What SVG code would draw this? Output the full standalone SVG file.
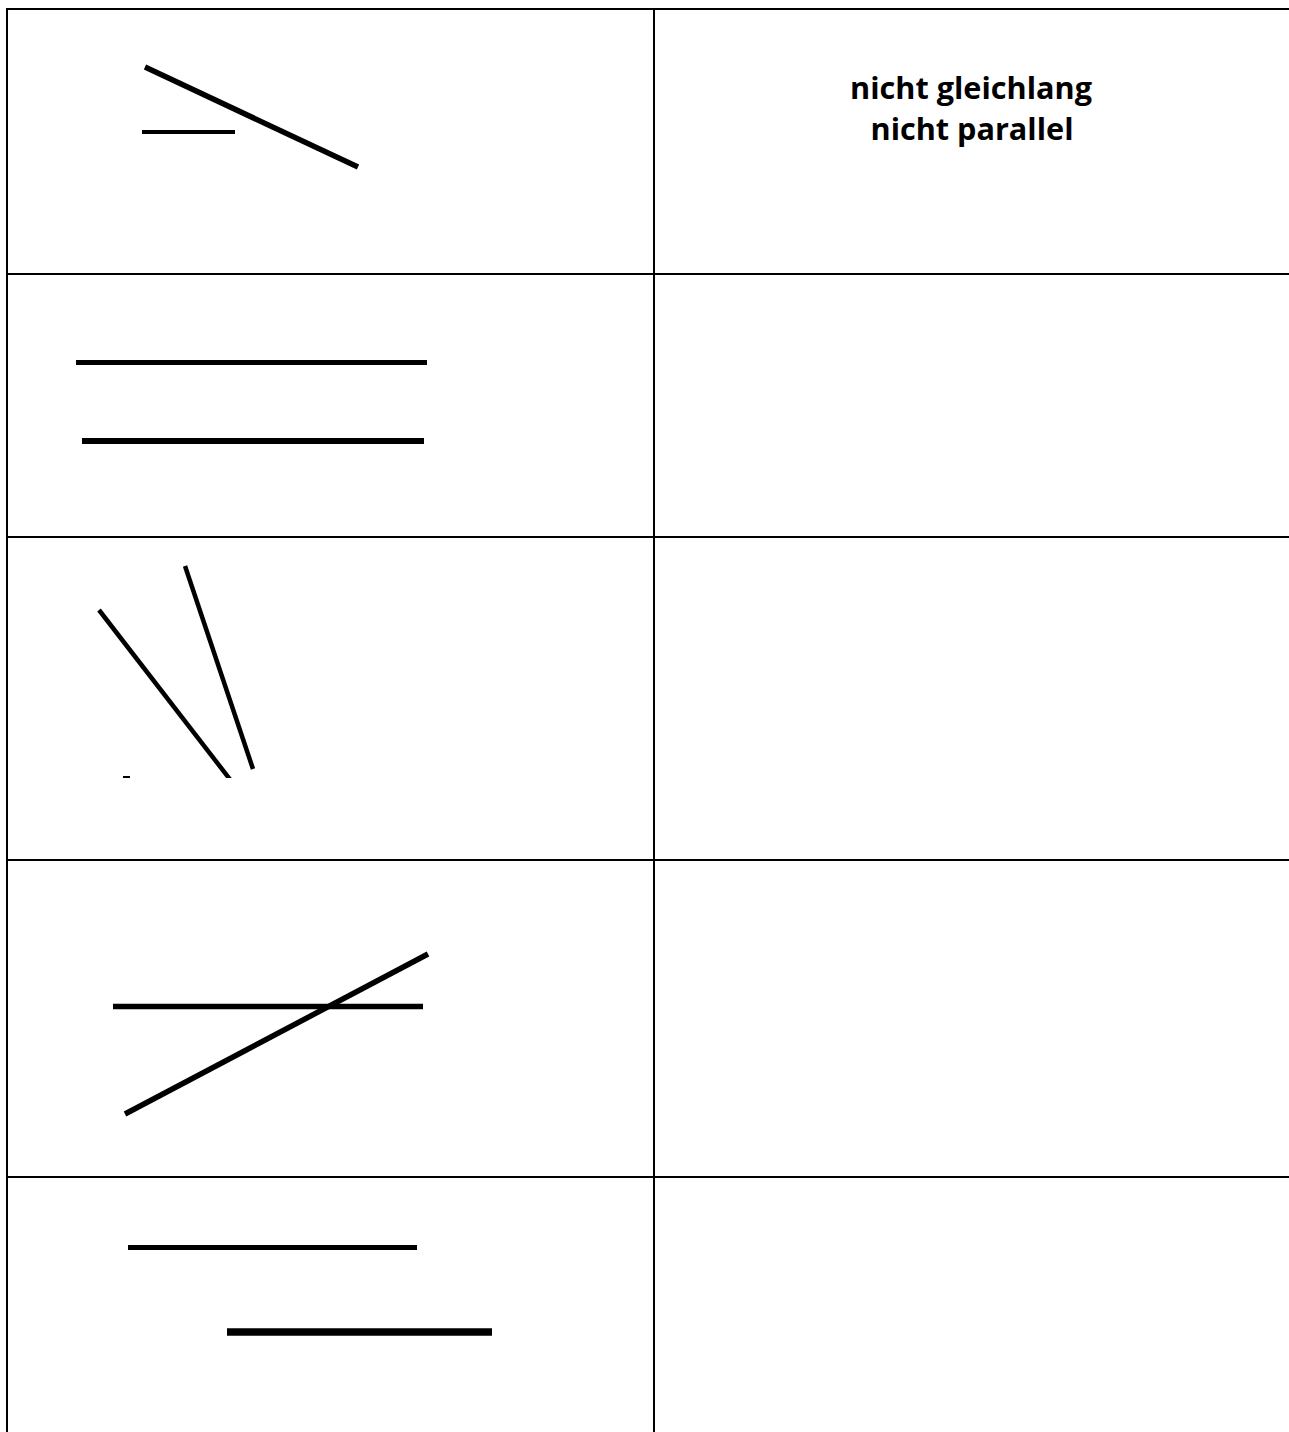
<svg xmlns="http://www.w3.org/2000/svg" width="1289" height="1432" viewBox="0 0 1289 1432">
  <style>
    .grid { stroke: #000; stroke-width: 2; fill: none; }
    .seg { stroke: #000; fill: none; stroke-linecap: butt; }
    .lbl { font-family: "Open Sans", "Noto Sans", "Liberation Sans", sans-serif; font-weight: bold; font-size: 31px; fill: #000; text-anchor: middle; }
  </style>
  <defs>
    <clipPath id="clip3">
      <rect x="0" y="540" width="650" height="238"/>
    </clipPath>
  </defs>
  <rect width="1289" height="1432" fill="#fff"/>

  <g id="table-grid">
    <line class="grid" x1="6" y1="9" x2="1289" y2="9"/>
    <line class="grid" x1="6" y1="274" x2="1289" y2="274"/>
    <line class="grid" x1="6" y1="537" x2="1289" y2="537"/>
    <line class="grid" x1="6" y1="860" x2="1289" y2="860"/>
    <line class="grid" x1="6" y1="1177" x2="1289" y2="1177"/>
    <line class="grid" x1="7" y1="8" x2="7" y2="1432"/>
    <line class="grid" x1="654" y1="8" x2="654" y2="1432"/>
  </g>

  <g id="row1-figure">
    <line class="seg" x1="145" y1="67" x2="358" y2="167" stroke-width="5.5"/>
    <line class="seg" x1="142" y1="132" x2="235" y2="132" stroke-width="4"/>
  </g>
  <g id="row1-text">
    <text class="lbl" x="971" y="99" textLength="242" lengthAdjust="spacingAndGlyphs">nicht gleichlang</text>
    <text class="lbl" x="972" y="140" textLength="203" lengthAdjust="spacingAndGlyphs">nicht parallel</text>
  </g>

  <g id="row2-figure">
    <line class="seg" x1="76" y1="362.5" x2="427" y2="362.5" stroke-width="5"/>
    <line class="seg" x1="82" y1="441" x2="424" y2="441" stroke-width="6"/>
  </g>

  <g id="row3-figure">
    <g clip-path="url(#clip3)">
      <line class="seg" x1="99" y1="610" x2="232" y2="782" stroke-width="4.5"/>
      <line class="seg" x1="185" y1="566" x2="253" y2="769" stroke-width="4.5"/>
    </g>
    <line class="seg" x1="123" y1="777" x2="130" y2="777" stroke-width="2"/>
  </g>

  <g id="row4-figure">
    <line class="seg" x1="113" y1="1006.5" x2="423" y2="1006.5" stroke-width="5.5"/>
    <line class="seg" x1="125" y1="1114" x2="428" y2="954" stroke-width="5.5"/>
  </g>

  <g id="row5-figure">
    <line class="seg" x1="128" y1="1247.5" x2="417" y2="1247.5" stroke-width="5"/>
    <line class="seg" x1="227" y1="1332" x2="492" y2="1332" stroke-width="7.5"/>
  </g>
</svg>
